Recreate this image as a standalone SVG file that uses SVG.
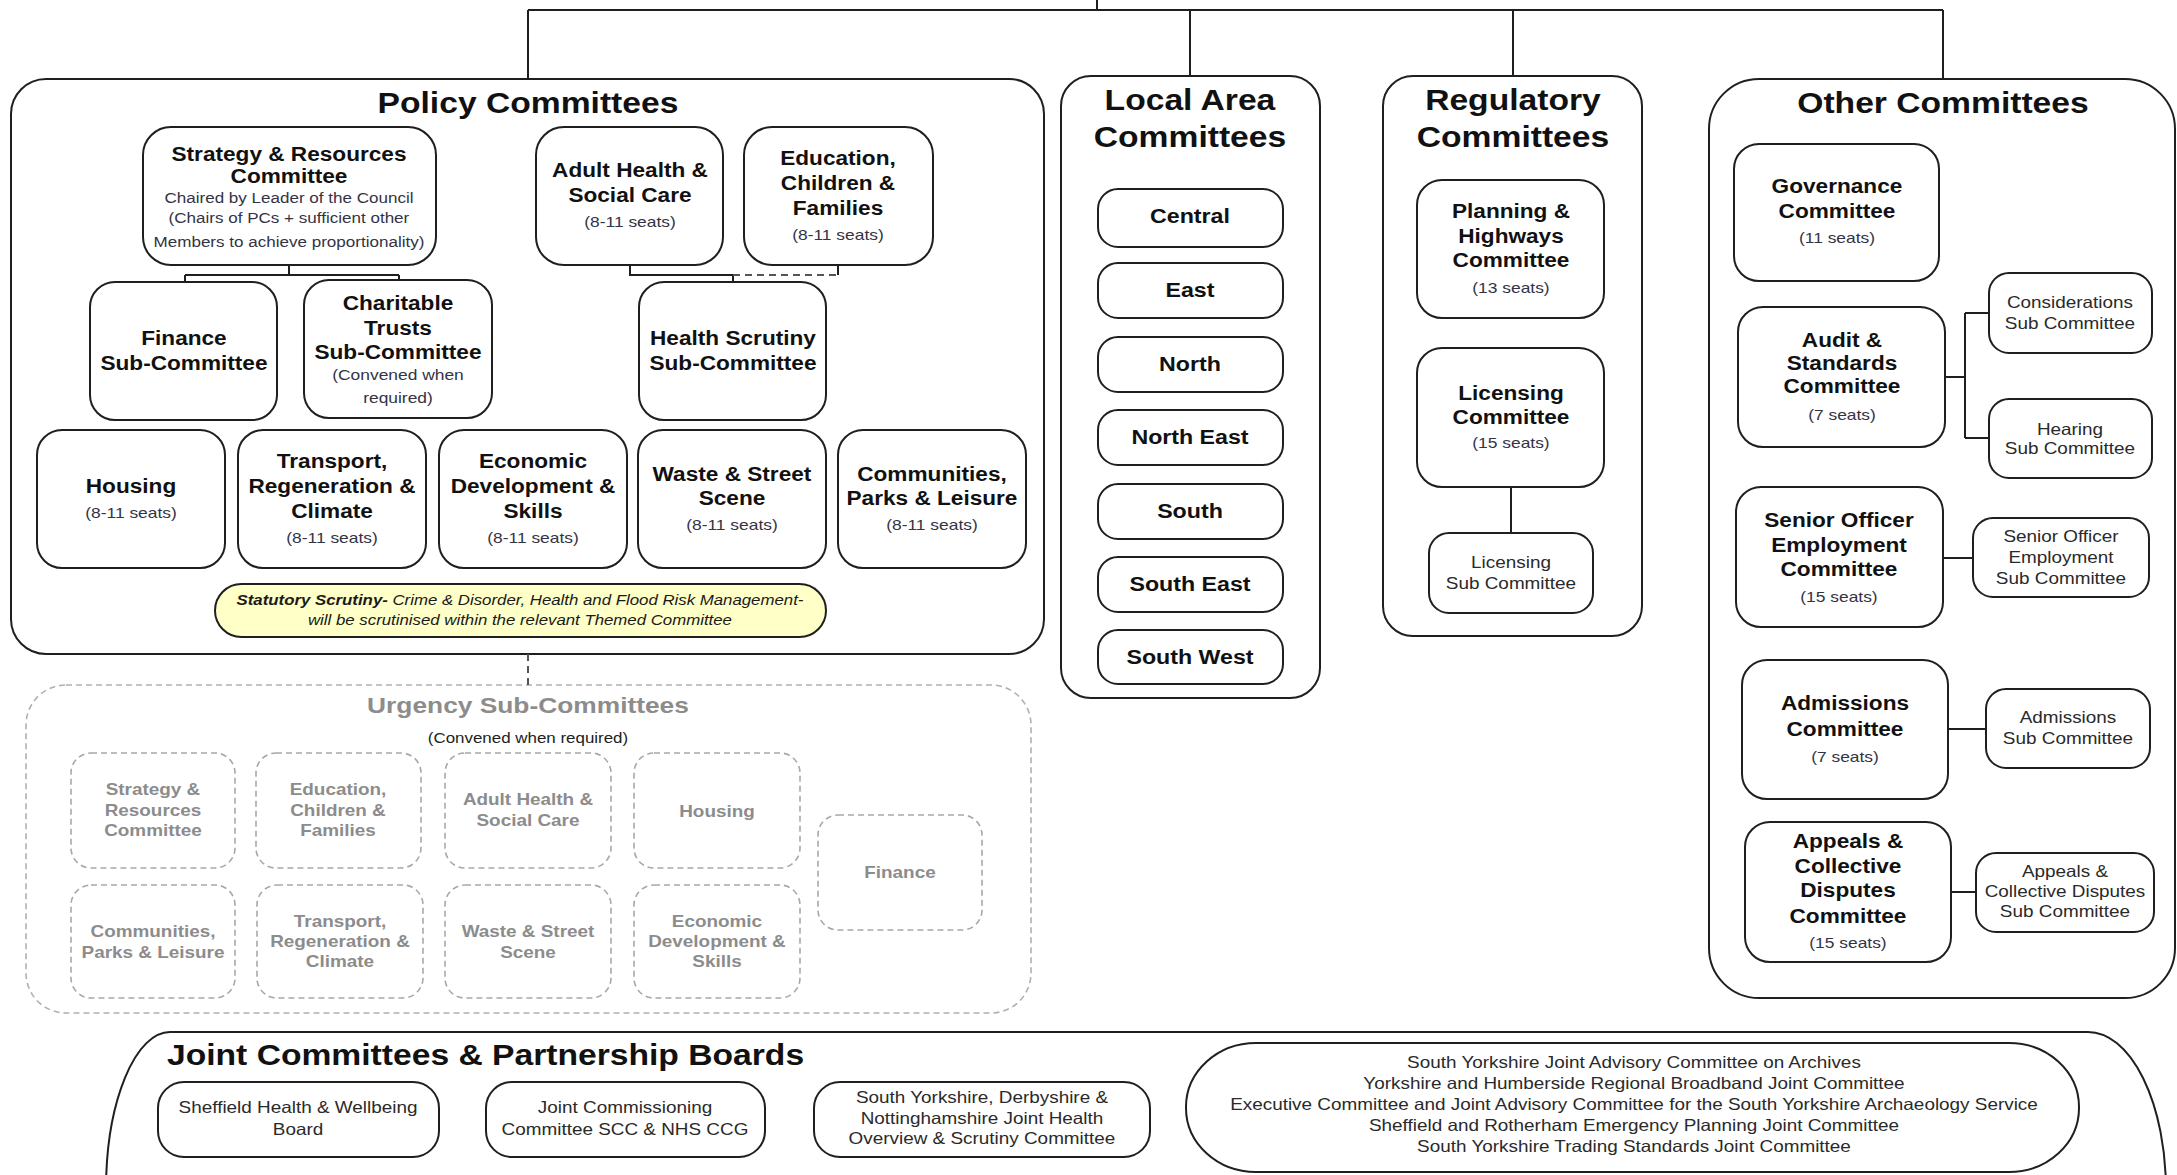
<svg xmlns="http://www.w3.org/2000/svg" width="2177" height="1175" viewBox="0 0 2177 1175">
<style>
text{font-family:"Liberation Sans",Arial,sans-serif;text-anchor:middle;fill:#111;transform-box:fill-box;transform-origin:center;transform:scaleX(1.16)}
.t{font-size:29px;font-weight:bold}
.tl{font-size:29px;font-weight:bold;text-anchor:start;transform-origin:left center}
.b{font-size:19.5px;font-weight:bold}
.l{font-size:20px;font-weight:bold}
.s{font-size:15px;fill:#333344}
.sc{font-size:14.7px;fill:#333344}
.r{font-size:16.3px;fill:#2a2a2a}
.st{font-size:14.5px;font-style:italic;fill:#1a1a1a}
.ug{font-size:22.7px;font-weight:bold;fill:#8c8c8c}
.ui{font-size:16.3px;font-weight:bold;fill:#8c8c8c}
.uc{font-size:14.6px;fill:#222}
.grp{fill:#fff;stroke:#1f1f1f;stroke-width:2}
.box{fill:#fff;stroke:#1f1f1f;stroke-width:2}
.dgrp{fill:none;stroke:#b0b0b0;stroke-width:1.6;stroke-dasharray:6 4}
.dbox{fill:none;stroke:#a8a8a8;stroke-width:1.6;stroke-dasharray:6 4}
.pill{fill:#ffffc8;stroke:#1f1f1f;stroke-width:2}
.c{fill:none;stroke:#1f1f1f;stroke-width:2}
.cd{fill:none;stroke:#555;stroke-width:2;stroke-dasharray:7 5}
</style>

<!-- group containers -->
<g id="policy-committees">
<rect class="grp" x="11" y="79" width="1033" height="575" rx="35"/>
<text class="t" x="528" y="113">Policy Committees</text>
</g>
<g id="local-area-committees">
<rect class="grp" x="1061" y="76" width="259" height="622" rx="30"/>
<text class="t" x="1190" y="110">Local Area</text>
<text class="t" x="1190" y="147">Committees</text>
</g>
<g id="regulatory-committees">
<rect class="grp" x="1383" y="76" width="259" height="560" rx="30"/>
<text class="t" x="1513" y="110">Regulatory</text>
<text class="t" x="1513" y="147">Committees</text>
</g>
<g id="other-committees">
<rect class="grp" x="1709" y="79" width="466" height="919" rx="50"/>
<text class="t" x="1943" y="113">Other Committees</text>
</g>
<g id="urgency-sub-committees">
<rect class="dgrp" x="26" y="685" width="1005" height="328" rx="40"/>
<text class="ug" x="528" y="713">Urgency Sub-Committees</text>
<text class="uc" x="528" y="743">(Convened when required)</text>
</g>
<g id="joint-committees">
<path class="c" d="M106 1300 V1190 A64 158 0 0 1 170 1032 H2088 A78 158 0 0 1 2166 1190 V1300"/>
<text class="tl" x="167" y="1065">Joint Committees &amp; Partnership Boards</text>
</g>

<!-- connectors -->
<g id="connectors">
<path class="c" d="M1097 0 V10 M528 10 H1943 M528 10 V79 M1190 10 V76 M1513 10 V76 M1943 10 V79"/>
<path class="c" d="M289 265 V275 M185 275 H399 M185 275 V282 M399 275 V280"/>
<path class="c" d="M630 265 V275 H733 V282 M838 265 V275"/>
<path class="cd" d="M733 275 H838"/>
<path class="cd" d="M528 654 V685"/>
<path class="c" d="M1511 487 V533"/>
<path class="c" d="M1945 377 H1965 M1965 313 V438 M1965 313 H1989 M1965 438 H1989"/>
<path class="c" d="M1943 558 H1973"/>
<path class="c" d="M1948 729 H1986"/>
<path class="c" d="M1951 892 H1976"/>
</g>

<!-- policy nodes -->
<g id="strategy-resources">
<rect class="box" x="143" y="127" width="293" height="138" rx="28"/>
<text class="b" x="289" y="161">Strategy &amp; Resources</text>
<text class="b" x="289" y="183">Committee</text>
<text class="sc" x="289" y="203">Chaired by Leader of the Council</text>
<text class="sc" x="289" y="223">(Chairs of PCs + sufficient other</text>
<text class="sc" x="289" y="247">Members to achieve proportionality)</text>
</g>
<g id="adult-health">
<rect class="box" x="536" y="127" width="187" height="138" rx="28"/>
<text class="b" x="630" y="177">Adult Health &amp;</text>
<text class="b" x="630" y="202">Social Care</text>
<text class="s" x="630" y="227">(8-11 seats)</text>
</g>
<g id="education">
<rect class="box" x="744" y="127" width="189" height="138" rx="28"/>
<text class="b" x="838" y="165">Education,</text>
<text class="b" x="838" y="190">Children &amp;</text>
<text class="b" x="838" y="215">Families</text>
<text class="s" x="838" y="240">(8-11 seats)</text>
</g>
<g id="finance-sub">
<rect class="box" x="90" y="282" width="187" height="138" rx="25"/>
<text class="b" x="184" y="345">Finance</text>
<text class="b" x="184" y="370">Sub-Committee</text>
</g>
<g id="charitable-trusts">
<rect class="box" x="304" y="280" width="188" height="138" rx="25"/>
<text class="b" x="398" y="310">Charitable</text>
<text class="b" x="398" y="335">Trusts</text>
<text class="b" x="398" y="359">Sub-Committee</text>
<text class="s" x="398" y="380">(Convened when</text>
<text class="s" x="398" y="403">required)</text>
</g>
<g id="health-scrutiny">
<rect class="box" x="639" y="282" width="187" height="138" rx="25"/>
<text class="b" x="733" y="345">Health Scrutiny</text>
<text class="b" x="733" y="370">Sub-Committee</text>
</g>
<g id="housing">
<rect class="box" x="37" y="430" width="188" height="138" rx="25"/>
<text class="b" x="131" y="493">Housing</text>
<text class="s" x="131" y="518">(8-11 seats)</text>
</g>
<g id="transport">
<rect class="box" x="238" y="430" width="188" height="138" rx="25"/>
<text class="b" x="332" y="468">Transport,</text>
<text class="b" x="332" y="493">Regeneration &amp;</text>
<text class="b" x="332" y="518">Climate</text>
<text class="s" x="332" y="543">(8-11 seats)</text>
</g>
<g id="economic">
<rect class="box" x="439" y="430" width="188" height="138" rx="25"/>
<text class="b" x="533" y="468">Economic</text>
<text class="b" x="533" y="493">Development &amp;</text>
<text class="b" x="533" y="518">Skills</text>
<text class="s" x="533" y="543">(8-11 seats)</text>
</g>
<g id="waste">
<rect class="box" x="638" y="430" width="188" height="138" rx="25"/>
<text class="b" x="732" y="481">Waste &amp; Street</text>
<text class="b" x="732" y="505">Scene</text>
<text class="s" x="732" y="530">(8-11 seats)</text>
</g>
<g id="communities">
<rect class="box" x="838" y="430" width="188" height="138" rx="25"/>
<text class="b" x="932" y="481">Communities,</text>
<text class="b" x="932" y="505">Parks &amp; Leisure</text>
<text class="s" x="932" y="530">(8-11 seats)</text>
</g>
<g id="statutory-scrutiny">
<rect class="pill" x="215" y="584" width="611" height="53" rx="26.5"/>
<text class="st" x="520" y="605"><tspan font-weight="bold">Statutory Scrutiny-</tspan> Crime &amp; Disorder, Health and Flood Risk Management-</text>
<text class="st" x="520" y="625">will be scrutinised within the relevant Themed Committee</text>
</g>

<!-- urgency nodes -->
<g id="u-strategy">
<rect class="dbox" x="71" y="753" width="164" height="115" rx="20"/>
<text class="ui" x="153" y="795">Strategy &amp;</text>
<text class="ui" x="153" y="816">Resources</text>
<text class="ui" x="153" y="836">Committee</text>
</g>
<g id="u-education">
<rect class="dbox" x="256" y="753" width="165" height="115" rx="20"/>
<text class="ui" x="338" y="795">Education,</text>
<text class="ui" x="338" y="816">Children &amp;</text>
<text class="ui" x="338" y="836">Families</text>
</g>
<g id="u-adult">
<rect class="dbox" x="445" y="753" width="166" height="115" rx="20"/>
<text class="ui" x="528" y="805">Adult Health &amp;</text>
<text class="ui" x="528" y="826">Social Care</text>
</g>
<g id="u-housing">
<rect class="dbox" x="634" y="753" width="166" height="115" rx="20"/>
<text class="ui" x="717" y="817">Housing</text>
</g>
<g id="u-communities">
<rect class="dbox" x="71" y="885" width="164" height="113" rx="20"/>
<text class="ui" x="153" y="937">Communities,</text>
<text class="ui" x="153" y="958">Parks &amp; Leisure</text>
</g>
<g id="u-transport">
<rect class="dbox" x="257" y="885" width="166" height="113" rx="20"/>
<text class="ui" x="340" y="927">Transport,</text>
<text class="ui" x="340" y="947">Regeneration &amp;</text>
<text class="ui" x="340" y="967">Climate</text>
</g>
<g id="u-waste">
<rect class="dbox" x="445" y="885" width="166" height="113" rx="20"/>
<text class="ui" x="528" y="937">Waste &amp; Street</text>
<text class="ui" x="528" y="958">Scene</text>
</g>
<g id="u-economic">
<rect class="dbox" x="634" y="885" width="166" height="113" rx="20"/>
<text class="ui" x="717" y="927">Economic</text>
<text class="ui" x="717" y="947">Development &amp;</text>
<text class="ui" x="717" y="967">Skills</text>
</g>
<g id="u-finance">
<rect class="dbox" x="818" y="815" width="164" height="115" rx="20"/>
<text class="ui" x="900" y="878">Finance</text>
</g>

<!-- local area nodes -->
<g id="la-central"><rect class="box" x="1098" y="189" width="185" height="58" rx="20"/><text class="l" x="1190" y="223">Central</text></g>
<g id="la-east"><rect class="box" x="1098" y="263" width="185" height="55" rx="20"/><text class="l" x="1190" y="297">East</text></g>
<g id="la-north"><rect class="box" x="1098" y="337" width="185" height="55" rx="20"/><text class="l" x="1190" y="371">North</text></g>
<g id="la-north-east"><rect class="box" x="1098" y="410" width="185" height="55" rx="20"/><text class="l" x="1190" y="444">North East</text></g>
<g id="la-south"><rect class="box" x="1098" y="484" width="185" height="55" rx="20"/><text class="l" x="1190" y="518">South</text></g>
<g id="la-south-east"><rect class="box" x="1098" y="557" width="185" height="55" rx="20"/><text class="l" x="1190" y="591">South East</text></g>
<g id="la-south-west"><rect class="box" x="1098" y="630" width="185" height="54" rx="20"/><text class="l" x="1190" y="664">South West</text></g>

<!-- regulatory nodes -->
<g id="planning-highways">
<rect class="box" x="1417" y="180" width="187" height="138" rx="25"/>
<text class="b" x="1511" y="218">Planning &amp;</text>
<text class="b" x="1511" y="243">Highways</text>
<text class="b" x="1511" y="267">Committee</text>
<text class="s" x="1511" y="293">(13 seats)</text>
</g>
<g id="licensing">
<rect class="box" x="1417" y="348" width="187" height="139" rx="25"/>
<text class="b" x="1511" y="400">Licensing</text>
<text class="b" x="1511" y="424">Committee</text>
<text class="s" x="1511" y="448">(15 seats)</text>
</g>
<g id="licensing-sub">
<rect class="box" x="1429" y="533" width="164" height="80" rx="20"/>
<text class="r" x="1511" y="568">Licensing</text>
<text class="r" x="1511" y="589">Sub Committee</text>
</g>

<!-- other nodes -->
<g id="governance">
<rect class="box" x="1734" y="144" width="205" height="137" rx="25"/>
<text class="b" x="1837" y="193">Governance</text>
<text class="b" x="1837" y="218">Committee</text>
<text class="s" x="1837" y="243">(11 seats)</text>
</g>
<g id="audit-standards">
<rect class="box" x="1738" y="307" width="207" height="140" rx="25"/>
<text class="b" x="1842" y="347">Audit &amp;</text>
<text class="b" x="1842" y="370">Standards</text>
<text class="b" x="1842" y="393">Committee</text>
<text class="s" x="1842" y="420">(7 seats)</text>
</g>
<g id="considerations-sub">
<rect class="box" x="1989" y="273" width="163" height="80" rx="20"/>
<text class="r" x="2070" y="308">Considerations</text>
<text class="r" x="2070" y="329">Sub Committee</text>
</g>
<g id="hearing-sub">
<rect class="box" x="1989" y="399" width="163" height="79" rx="20"/>
<text class="r" x="2070" y="435">Hearing</text>
<text class="r" x="2070" y="454">Sub Committee</text>
</g>
<g id="senior-officer">
<rect class="box" x="1736" y="487" width="207" height="140" rx="25"/>
<text class="b" x="1839" y="527">Senior Officer</text>
<text class="b" x="1839" y="552">Employment</text>
<text class="b" x="1839" y="576">Committee</text>
<text class="s" x="1839" y="602">(15 seats)</text>
</g>
<g id="senior-officer-sub">
<rect class="box" x="1973" y="518" width="176" height="79" rx="20"/>
<text class="r" x="2061" y="542">Senior Officer</text>
<text class="r" x="2061" y="563">Employment</text>
<text class="r" x="2061" y="584">Sub Committee</text>
</g>
<g id="admissions">
<rect class="box" x="1742" y="660" width="206" height="139" rx="25"/>
<text class="b" x="1845" y="710">Admissions</text>
<text class="b" x="1845" y="736">Committee</text>
<text class="s" x="1845" y="762">(7 seats)</text>
</g>
<g id="admissions-sub">
<rect class="box" x="1986" y="689" width="164" height="79" rx="20"/>
<text class="r" x="2068" y="723">Admissions</text>
<text class="r" x="2068" y="744">Sub Committee</text>
</g>
<g id="appeals">
<rect class="box" x="1745" y="822" width="206" height="140" rx="25"/>
<text class="b" x="1848" y="848">Appeals &amp;</text>
<text class="b" x="1848" y="873">Collective</text>
<text class="b" x="1848" y="897">Disputes</text>
<text class="b" x="1848" y="923">Committee</text>
<text class="s" x="1848" y="948">(15 seats)</text>
</g>
<g id="appeals-sub">
<rect class="box" x="1976" y="853" width="178" height="79" rx="20"/>
<text class="r" x="2065" y="877">Appeals &amp;</text>
<text class="r" x="2065" y="897">Collective Disputes</text>
<text class="r" x="2065" y="917">Sub Committee</text>
</g>

<!-- joint nodes -->
<g id="sheffield-hwb">
<rect class="box" x="158" y="1082" width="281" height="75" rx="26"/>
<text class="r" x="298" y="1113">Sheffield Health &amp; Wellbeing</text>
<text class="r" x="298" y="1135">Board</text>
</g>
<g id="joint-commissioning">
<rect class="box" x="486" y="1082" width="279" height="75" rx="26"/>
<text class="r" x="625" y="1113">Joint Commissioning</text>
<text class="r" x="625" y="1135">Committee SCC &amp; NHS CCG</text>
</g>
<g id="sy-derbyshire-notts">
<rect class="box" x="814" y="1082" width="336" height="75" rx="26"/>
<text class="r" x="982" y="1103">South Yorkshire, Derbyshire &amp;</text>
<text class="r" x="982" y="1124">Nottinghamshire Joint Health</text>
<text class="r" x="982" y="1144">Overview &amp; Scrutiny Committee</text>
</g>
<g id="joint-list">
<rect class="box" x="1186" y="1043" width="893" height="129" rx="70" ry="64"/>
<text class="r" x="1634" y="1068">South Yorkshire Joint Advisory Committee on Archives</text>
<text class="r" x="1634" y="1089">Yorkshire and Humberside Regional Broadband Joint Committee</text>
<text class="r" x="1634" y="1110">Executive Committee and Joint Advisory Committee for the South Yorkshire Archaeology Service</text>
<text class="r" x="1634" y="1131">Sheffield and Rotherham Emergency Planning Joint Committee</text>
<text class="r" x="1634" y="1152">South Yorkshire Trading Standards Joint Committee</text>
</g>
</svg>
